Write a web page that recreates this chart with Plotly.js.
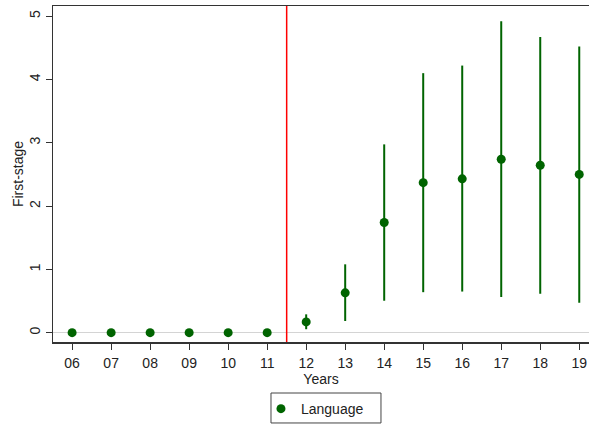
<!DOCTYPE html>
<html>
<head>
<meta charset="utf-8">
<script src="https://cdn.plot.ly/plotly-3.0.1.min.js"></script>
<style>
  html, body { margin: 0; padding: 0; background: #fff; }
  #chart { width: 589px; height: 426px; }
</style>
</head>
<body>
<div id="chart"></div>
<script>
// event-study first stage, estimates
const years = [6, 7, 8, 9, 10, 11, 12, 13, 14, 15, 16, 17, 18, 19];
const yearLabels = ['06', '07', '08', '09', '10', '11', '12', '13', '14', '15', '16', '17', '18', '19'];
const coef = [0, 0, 0, 0, 0, 0, 0.17, 0.63, 1.74, 2.37, 2.43, 2.74, 2.645, 2.50];
const ciLow = [0, 0, 0, 0, 0, 0, 0.055, 0.185, 0.505, 0.64, 0.65, 0.565, 0.615, 0.475];
const ciHigh = [0, 0, 0, 0, 0, 0, 0.29, 1.08, 2.975, 4.10, 4.22, 4.92, 4.67, 4.52];
const yTicks = [0, 1, 2, 3, 4, 5];
const cutoff = 11.5;

const green = '#006400';
const fontFamily = '"Liberation Sans", Arial, sans-serif';

const trace = {
  type: 'scatter',
  mode: 'markers',
  x: years,
  y: coef,
  name: 'Language',
  marker: { color: green, size: 9 },
  error_y: {
    type: 'data',
    symmetric: false,
    array: ciHigh.map((h, i) => h - coef[i]),
    arrayminus: ciLow.map((l, i) => coef[i] - l),
    color: green,
    thickness: 2,
    width: 0
  },
  hoverinfo: 'x+y'
};

const layout = {
  width: 589,
  height: 426,
  margin: { l: 53, r: 0, t: 6, b: 84 },
  paper_bgcolor: '#fff',
  plot_bgcolor: '#fff',
  font: { family: fontFamily, size: 14, color: '#222' },
  showlegend: true,
  // legend drawn without its own frame; the frame is a shape below
  legend: {
    orientation: 'h',
    x: 0.388,
    xanchor: 'left',
    y: -0.152,
    yanchor: 'top',
    borderwidth: 0,
    bgcolor: 'rgba(0,0,0,0)',
    itemwidth: 30,
    font: { family: fontFamily, size: 14, color: '#222' }
  },
  xaxis: {
    range: [5.51, 19.25],
    tickvals: years,
    ticktext: yearLabels,
    ticks: 'outside',
    ticklen: 6,
    tickcolor: '#333',
    ticklabelstandoff: 2,
    showline: true,
    linecolor: '#333',
    linewidth: 1.5,
    mirror: true,
    showgrid: false,
    zeroline: false,
    title: { text: 'Years', standoff: 0, font: { family: fontFamily, size: 14 } }
  },
  yaxis: {
    range: [-0.147, 5.161],
    tickvals: yTicks,
    ticks: 'outside',
    ticklen: 6,
    tickcolor: '#333',
    tickangle: -90,
    showline: true,
    linecolor: '#333',
    linewidth: 1.5,
    showgrid: false,
    zeroline: true,
    zerolinecolor: '#d4d4d4',
    zerolinewidth: 1.5,
    title: { text: 'First-stage', standoff: 0, font: { family: fontFamily, size: 14 } }
  },
  shapes: [
    {
      type: 'line',
      xref: 'x',
      yref: 'paper',
      x0: cutoff,
      x1: cutoff,
      y0: 0,
      y1: 1,
      line: { color: '#ff0000', width: 1.5 }
    },
    {
      type: 'rect',
      xref: 'paper',
      yref: 'paper',
      x0: 0.4067,
      x1: 0.6119,
      y0: -0.1518,
      y1: -0.241,
      line: { color: '#444', width: 1 },
      fillcolor: 'rgba(0,0,0,0)'
    }
  ]
};

Plotly.newPlot('chart', [trace], layout, { displayModeBar: false, staticPlot: true });
</script>
</body>
</html>
